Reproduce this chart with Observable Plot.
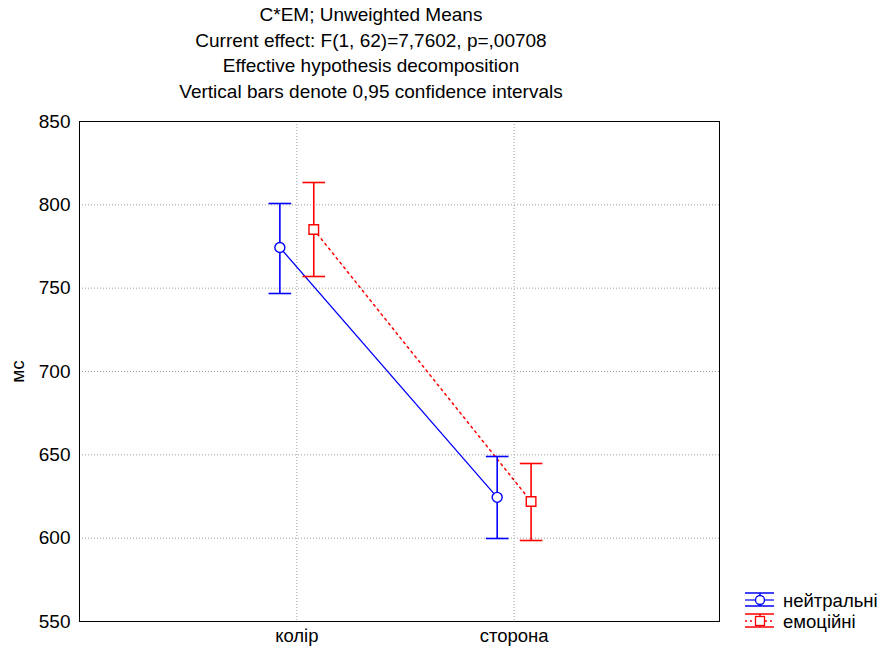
<!DOCTYPE html>
<html>
<head>
<meta charset="utf-8">
<script src="https://cdn.jsdelivr.net/npm/d3@7"></script>
<script src="https://cdn.jsdelivr.net/npm/@observablehq/plot@0.6"></script>
<style>
  body { margin: 0; background: #fff; font-family: "Liberation Sans", Arial, sans-serif; }
  #wrap { position: relative; width: 882px; height: 653px; }
  #title { position: absolute; left: 0; top: 2px; width: 742px; text-align: center; font-size: 19px; line-height: 25.5px; color: #000; }
  #legend { position: absolute; left: 740px; top: 586px; }
</style>
</head>
<body>
<div id="wrap">
  <div id="chart"></div>
  <div id="title"></div>
  <div id="legend"></div>
</div>
<script>
const titleLines = [
  "C*EM; Unweighted Means",
  "Current effect: F(1, 62)=7,7602, p=,00708",
  "Effective hypothesis decomposition",
  "Vertical bars denote 0,95 confidence intervals"
];
const categories = ["колір", "сторона"];
const seriesNames = ["нейтральні", "емоційні"];
const seriesColors = ["#0000ff", "#ff0000"];
const neutralMean = [774.4, 624.5];
const neutralLow = [746.8, 599.8];
const neutralHigh = [800.8, 649.0];
const emotionalMean = [785.2, 622.0];
const emotionalLow = [757.0, 598.6];
const emotionalHigh = [813.4, 644.8];
const yTicks = [550, 600, 650, 700, 750, 800, 850];

document.getElementById("title").innerHTML = titleLines.map(t => `<div>${t}</div>`).join("");

const offsets = [-0.078, 0.078];
const capHalf = 0.052;
const seriesData = [
  [neutralMean, neutralLow, neutralHigh],
  [emotionalMean, emotionalLow, emotionalHigh]
];
const rows = [];
seriesNames.forEach((s, si) => {
  categories.forEach((c, ci) => {
    rows.push({
      series: s,
      cat: c,
      pos: ci + 1 + offsets[si],
      mean: seriesData[si][0][ci],
      lo: seriesData[si][1][ci],
      hi: seriesData[si][2][ci]
    });
  });
});
const colorOf = d => seriesColors[seriesNames.indexOf(d.series)];
const neutralRows = rows.filter(d => d.series === seriesNames[0]);
const emoRows = rows.filter(d => d.series === seriesNames[1]);

const chart = Plot.plot({
  width: 882,
  height: 653,
  marginTop: 121,
  marginLeft: 79,
  marginRight: 163,
  marginBottom: 32,
  style: { fontFamily: "Liberation Sans, Arial, sans-serif", fontSize: "19px", background: "#fff", color: "#000" },
  x: { type: "linear", domain: [0, 2.945] },
  y: { domain: [550, 850] },
  marks: [
    Plot.gridY(yTicks.slice(1, -1), { stroke: "#a0a0a0", strokeOpacity: 1, strokeDasharray: "1,2" }),
    Plot.gridX([1, 2], { stroke: "#a0a0a0", strokeOpacity: 1, strokeDasharray: "1,2" }),
    Plot.axisY({ ticks: yTicks, tickSize: 0, tickPadding: 9, fontSize: 19, label: "мс", labelAnchor: "center", labelOffset: 69, labelArrow: "none" }),
    Plot.axisX({ ticks: [1, 2], tickFormat: i => categories[i - 1], tickSize: 0, tickPadding: 7, fontSize: 18.5, label: null }),
    Plot.line(neutralRows, { x: "pos", y: "mean", stroke: seriesColors[0], strokeWidth: 1.3 }),
    Plot.line(emoRows, { x: "pos", y: "mean", stroke: seriesColors[1], strokeWidth: 1.5, strokeDasharray: "2,4" }),
    Plot.ruleX(rows, { x: "pos", y1: "lo", y2: "hi", stroke: colorOf, strokeWidth: 1.6 }),
    Plot.link(rows, { x1: d => d.pos - capHalf, x2: d => d.pos + capHalf, y1: "hi", y2: "hi", stroke: colorOf, strokeWidth: 1.6 }),
    Plot.link(rows, { x1: d => d.pos - capHalf, x2: d => d.pos + capHalf, y1: "lo", y2: "lo", stroke: colorOf, strokeWidth: 1.6 }),
    Plot.dot(neutralRows, { x: "pos", y: "mean", symbol: "circle", r: 5, fill: "white", stroke: seriesColors[0], strokeWidth: 1.4 }),
    Plot.dot(emoRows, { x: "pos", y: "mean", symbol: "square", r: 5.4, fill: "white", stroke: seriesColors[1], strokeWidth: 1.4 }),
    Plot.frame({ stroke: "#000", strokeWidth: 1 })
  ]
});
document.getElementById("chart").appendChild(chart);

// Legend
const legend = d3.select("#legend").append("svg").attr("width", 142).attr("height", 50)
  .style("font-family", "Liberation Sans, Arial, sans-serif");
seriesNames.forEach((s, i) => {
  const g = legend.append("g").attr("transform", `translate(0, ${i * 21})`);
  const col = seriesColors[i];
  g.append("line").attr("x1", 5).attr("x2", 34).attr("y1", 7).attr("y2", 7).attr("stroke", col).attr("stroke-width", 1.5);
  g.append("line").attr("x1", 5).attr("x2", 34).attr("y1", 20).attr("y2", 20).attr("stroke", col).attr("stroke-width", 1.5);
  g.append("line").attr("x1", 20).attr("x2", 20).attr("y1", 7).attr("y2", 20).attr("stroke", col).attr("stroke-width", 1.5);
  if (i === 0) {
    g.append("line").attr("x1", 5).attr("x2", 34).attr("y1", 14).attr("y2", 14).attr("stroke", col).attr("stroke-width", 1.2);
    g.append("circle").attr("cx", 20).attr("cy", 14).attr("r", 4.5).attr("fill", "white").attr("stroke", col).attr("stroke-width", 1.3);
  } else {
    g.append("line").attr("x1", 5).attr("x2", 34).attr("y1", 14).attr("y2", 14).attr("stroke", col).attr("stroke-width", 1.5).attr("stroke-dasharray", "2,3");
    g.append("rect").attr("x", 15.5).attr("y", 9.5).attr("width", 9).attr("height", 9).attr("fill", "white").attr("stroke", col).attr("stroke-width", 1.3);
  }
  g.append("text").attr("x", 43).attr("y", 21).attr("font-size", 18.5).attr("fill", "#000").text(s);
});
</script>
</body>
</html>
